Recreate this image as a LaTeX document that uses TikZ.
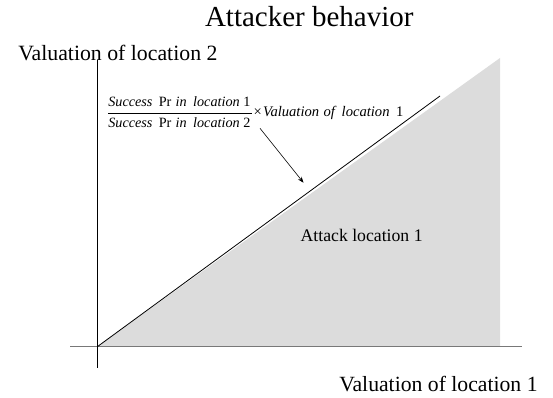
\documentclass[tikz,border=0pt]{standalone}
\usepackage{fontspec}
\setmainfont{Liberation Serif}
\usetikzlibrary{arrows.meta}
\definecolor{fillgray}{RGB}{220,220,220}
\definecolor{axisgray}{RGB}{120,120,120}
\tikzset{
  lbl/.style={anchor=base west, inner sep=0pt, outer sep=0pt},
  axis/.style={line width=0.9pt},
  formula/.style={lbl, font=\fontsize{14.2}{16}\selectfont},
}
\begin{document}
\begin{tikzpicture}[x=1pt,y=-1pt]
\useasboundingbox (0,0) rectangle (553,398);
% named points
\coordinate (O) at (97.3,346.7);
\coordinate (T) at (500,58);
\coordinate (B) at (500,346.7);
\coordinate (L) at (440,96);
\coordinate (xl) at (70,346.7);
\coordinate (xr) at (522,346.7);
\coordinate (yt) at (97.3,60);
\coordinate (yb) at (97.3,368.3);
% shaded region
\fill[fillgray] (O) -- (T) -- (B) -- cycle;
% axes
\draw[axis, draw=axisgray] (xl) -- (xr);
\draw[axis, black] (yt) -- (yb);
% boundary line
\draw[line width=0.8pt] (O) -- (L);
% texts
\node[lbl, font=\fontsize{29}{31}\selectfont] (title) at (205,27) {Attacker behavior};
\node[lbl, font=\fontsize{21.8}{24}\selectfont] (ylab) at (18.3,61) {Valuation of location 2};
\node[lbl, font=\fontsize{21.7}{24}\selectfont] (xlab) at (339.3,391.5) {Valuation of location 1};
\node[lbl, font=\fontsize{17.7}{20}\selectfont] (region) at (300.7,241.7) {Attack location 1};
% formula
\node[formula] (num) at (108.3,107) {\textit{Success}\hspace{0.45em}Pr\hspace{0.3em}\textit{in\hspace{0.2em} location}\hspace{0.25em}1};
\node[formula] (den) at (108.3,128) {\textit{Success}\hspace{0.45em}Pr\hspace{0.3em}\textit{in\hspace{0.2em} location}\hspace{0.25em}2};
\coordinate (barl) at (108,113.8);
\coordinate (barr) at (252,113.8);
\draw[line width=0.8pt] (barl) -- (barr);
\node[formula, font=\fontsize{14.6}{16}\selectfont] (times) at (253.5,116.7) {×\hspace{0.1em}\textit{Valuation}\hspace{0.3em}\textit{of}\hspace{0.35em}\textit{location}\hspace{0.45em}1};
% arrow
\coordinate (as) at (260,128.3);
\coordinate (ae) at (303.5,182.7);
\draw[line width=0.6pt, -{Stealth[length=6pt,width=4.5pt]}] (as) -- (ae);
\end{tikzpicture}
\end{document}
